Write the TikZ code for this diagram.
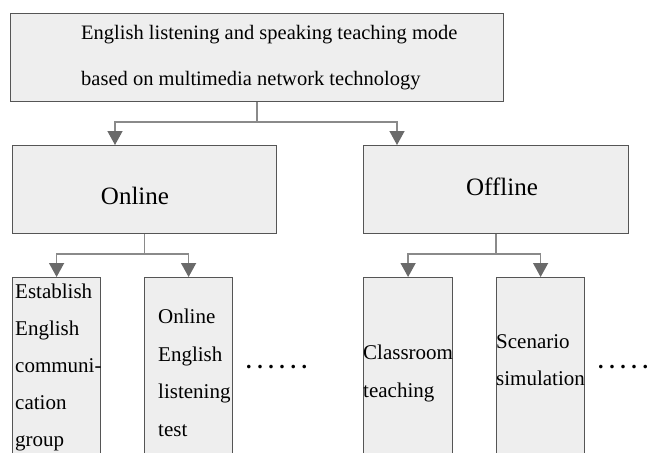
\documentclass[tikz,border=0pt]{standalone}
\usepackage{fontspec}
\setmainfont{Liberation Serif}
\usetikzlibrary{arrows.meta}
\definecolor{boxfill}{HTML}{EEEEEE}
\definecolor{boxline}{HTML}{555555}
\definecolor{conn}{HTML}{8A8A8A}
\definecolor{tip}{HTML}{6A6A6A}
\tikzset{
  box/.style={draw=boxline, line width=1.2pt, fill=boxfill, inner sep=0pt, anchor=north west},
  conline/.style={draw=conn, line width=1.4pt, -{Triangle[width=15pt,length=14pt,fill=tip,color=tip]}},
  bigtxt/.style={font=\fontsize{20.5}{45}\selectfont, anchor=base west, inner sep=0pt},
  midtxt/.style={font=\fontsize{25}{30}\selectfont, anchor=base, inner sep=0pt},
  smalltxt/.style={font=\fontsize{21}{37.6}\selectfont, inner sep=0pt, align=left, anchor=north west},
  dotstxt/.style={font=\fontsize{22}{22}\selectfont\bfseries, anchor=base west, inner sep=0pt}
}
\newcommand{\mydots}{.\hspace{5.6pt}.\hspace{5.6pt}.\hspace{5.6pt}.\hspace{5.6pt}.\hspace{5.6pt}.}
\newcommand{\mydotsfive}{.\hspace{5.6pt}.\hspace{5.6pt}.\hspace{5.6pt}.\hspace{5.6pt}.}
\begin{document}
\begin{tikzpicture}[x=1pt,y=-1pt]
\useasboundingbox (0,0) rectangle (652,452);
\clip (0,0) rectangle (652,452);
% boxes
\node[box, minimum width=493pt, minimum height=88pt] (top) at (10,13) {};
\node[box, minimum width=264pt, minimum height=88pt] (online) at (12,145) {};
\node[box, minimum width=265pt, minimum height=88pt] (offline) at (363,145) {};
\node[box, minimum width=88pt, minimum height=200pt] (c1) at (12,277) {};
\node[box, minimum width=88pt, minimum height=200pt] (c2) at (144,277) {};
\node[box, minimum width=89pt, minimum height=200pt] (c3) at (363,277) {};
\node[box, minimum width=88pt, minimum height=200pt] (c4) at (496,277) {};
% texts
\node[bigtxt] (t1) at (81,40) {English listening and speaking teaching mode};
\node[bigtxt] (t2) at (81,85) {based on multimedia network technology};
\node[midtxt] (tonl) at (135,204) {Online};
\node[midtxt] (toff) at (502,195) {Offline};
\node[smalltxt, font=\fontsize{21}{37.0}\selectfont] (tc1) at (15,284) {Establish\\English\\communi-\\cation\\group};
\node[smalltxt] (tc2) at (158,309) {Online\\English\\listening\\test};
\node[smalltxt] (tc3) at (363,345) {Classroom\\teaching};
\node[smalltxt] (tc4) at (496,334) {Scenario\\simulation};
\node[dotstxt] (d1) at (246,368) {\mydots};
\node[dotstxt] (d2) at (598,368) {\mydotsfive};
% connectors
\draw[conline] (top.south) -- (top.south |- 0,122) -| ([xshift=103pt]online.north west);
\draw[conline] (top.south) -- (top.south |- 0,122) -| ([xshift=34pt]offline.north west);
\draw[conline] (online.south) -- (online.south |- 0,254) -| (c1.north);
\draw[conline] (online.south) -- (online.south |- 0,254) -| (c2.north);
\draw[conline] (offline.south) -- (offline.south |- 0,254) -| (c3.north);
\draw[conline] (offline.south) -- (offline.south |- 0,254) -| (c4.north);
\end{tikzpicture}
\end{document}
